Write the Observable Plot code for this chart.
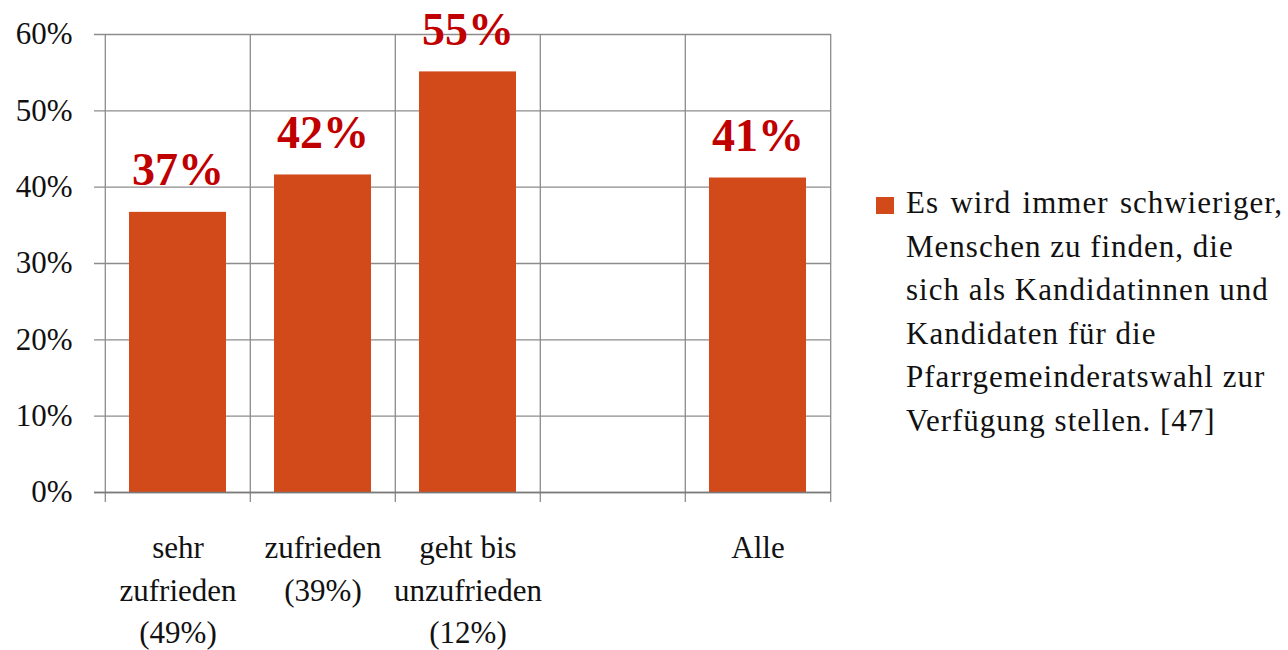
<!DOCTYPE html>
<html>
<head>
<meta charset="utf-8">
<script src="https://cdn.jsdelivr.net/npm/d3@7"></script>
<script src="https://cdn.jsdelivr.net/npm/@observablehq/plot@0.6"></script>
<style>
  body { margin: 0; background: #fff; }
  #wrap { position: relative; width: 1288px; height: 650px; font-family: "Liberation Serif", serif; }
  #chart { position: absolute; left: 0; top: 0; }
  #legend { position: absolute; left: 876px; top: 181px; }
  #legend .sw { position: absolute; left: 0; top: 16px; width: 18px; height: 17px; background: #D24A19; }
  #legend .txt { position: absolute; left: 30px; top: 0; width: 377px; font-size: 31px; letter-spacing: 1px; line-height: 43.5px; color: #111; white-space: nowrap; }
  #legend .txt div.j { text-align: justify; text-align-last: justify; }
</style>
</head>
<body>
<div id="wrap">
  <div id="chart"></div>
  <div id="legend"><div class="sw"></div><div class="txt"></div></div>
</div>
<script>
// ---- data ----
const categories = ["sehr\nzufrieden\n(49%)", "zufrieden\n(39%)", "geht bis\nunzufrieden\n(12%)", " ", "Alle"];
const values = [36.7, 41.6, 55.1, null, 41.2];
const barLabels = ["37%", "42%", "55%", "", "41%"];
const yTicks = [0, 10, 20, 30, 40, 50, 60];
const legendLines = [
  "Es wird immer schwieriger,",
  "Menschen zu finden, die",
  "sich als Kandidatinnen und",
  "Kandidaten für die",
  "Pfarrgemeinderatswahl zur",
  "Verfügung stellen. [47]"
];
const justified = [true, false, false, false, false, false];

const rows = categories.map((c, i) => ({cat: c, value: values[i], label: barLabels[i]}));
const bars = rows.filter(d => d.value != null);

// ---- layout ----
const W = 860, H = 650;
const mL = 104, mR = 29, mT = 34, mB = 158;
const step = (W - mL - mR) / categories.length;
const gridColor = "#8c8c8c";
const barColor = "#D24A19";

const chart = Plot.plot({
  width: W, height: H,
  marginLeft: mL, marginRight: mR, marginTop: mT, marginBottom: mB,
  style: {fontFamily: "'Liberation Serif', serif", background: "#fff", color: "#111"},
  x: {type: "band", domain: categories, padding: 0, axis: null},
  y: {domain: [0, 60], axis: null},
  marks: [
    // horizontal gridlines (with tick extending left)
    Plot.ruleY(yTicks, {stroke: gridColor, strokeWidth: 1.3, insetLeft: -10}),
    // vertical gridlines at band boundaries (with ticks extending below)
    Plot.ruleX(categories, {x: d => d, y1: 60, y2: 0, dx: -step / 2, stroke: gridColor, strokeWidth: 1.3, insetBottom: -10}),
    Plot.ruleX([categories[categories.length - 1]], {x: d => d, y1: 60, y2: 0, dx: step / 2, stroke: gridColor, strokeWidth: 1.3, insetBottom: -10}),
    // bars
    Plot.barY(bars, {x: "cat", y: "value", fill: barColor, insetLeft: 24, insetRight: 24}),
    // baseline
    Plot.ruleY([0], {stroke: "#7a7a7a", strokeWidth: 1.6, insetLeft: -10}),
    // value labels
    Plot.text(bars, {x: "cat", y: "value", text: "label", lineAnchor: "bottom", dy: -27, fontSize: 46, fontWeight: "bold", fill: "#C00000"}),
    // y axis labels
    Plot.axisY(yTicks, {tickSize: 0, tickPadding: 32, tickFormat: d => d + "%", fontSize: 31, label: null, style: {letterSpacing: "1.5px"}}),
    // x category labels
    Plot.text(categories, {x: d => d, y: 0, text: d => d, lineAnchor: "top", dy: 36, lineHeight: 1.36, fontSize: 31, fill: "#111", style: {letterSpacing: "1px"}})
  ]
});
document.getElementById("chart").appendChild(chart);

// legend
const txt = document.querySelector("#legend .txt");
legendLines.forEach((l, i) => {
  const d = document.createElement("div");
  d.textContent = l;
  if (justified[i]) d.className = "j";
  txt.appendChild(d);
});
</script>
</body>
</html>
